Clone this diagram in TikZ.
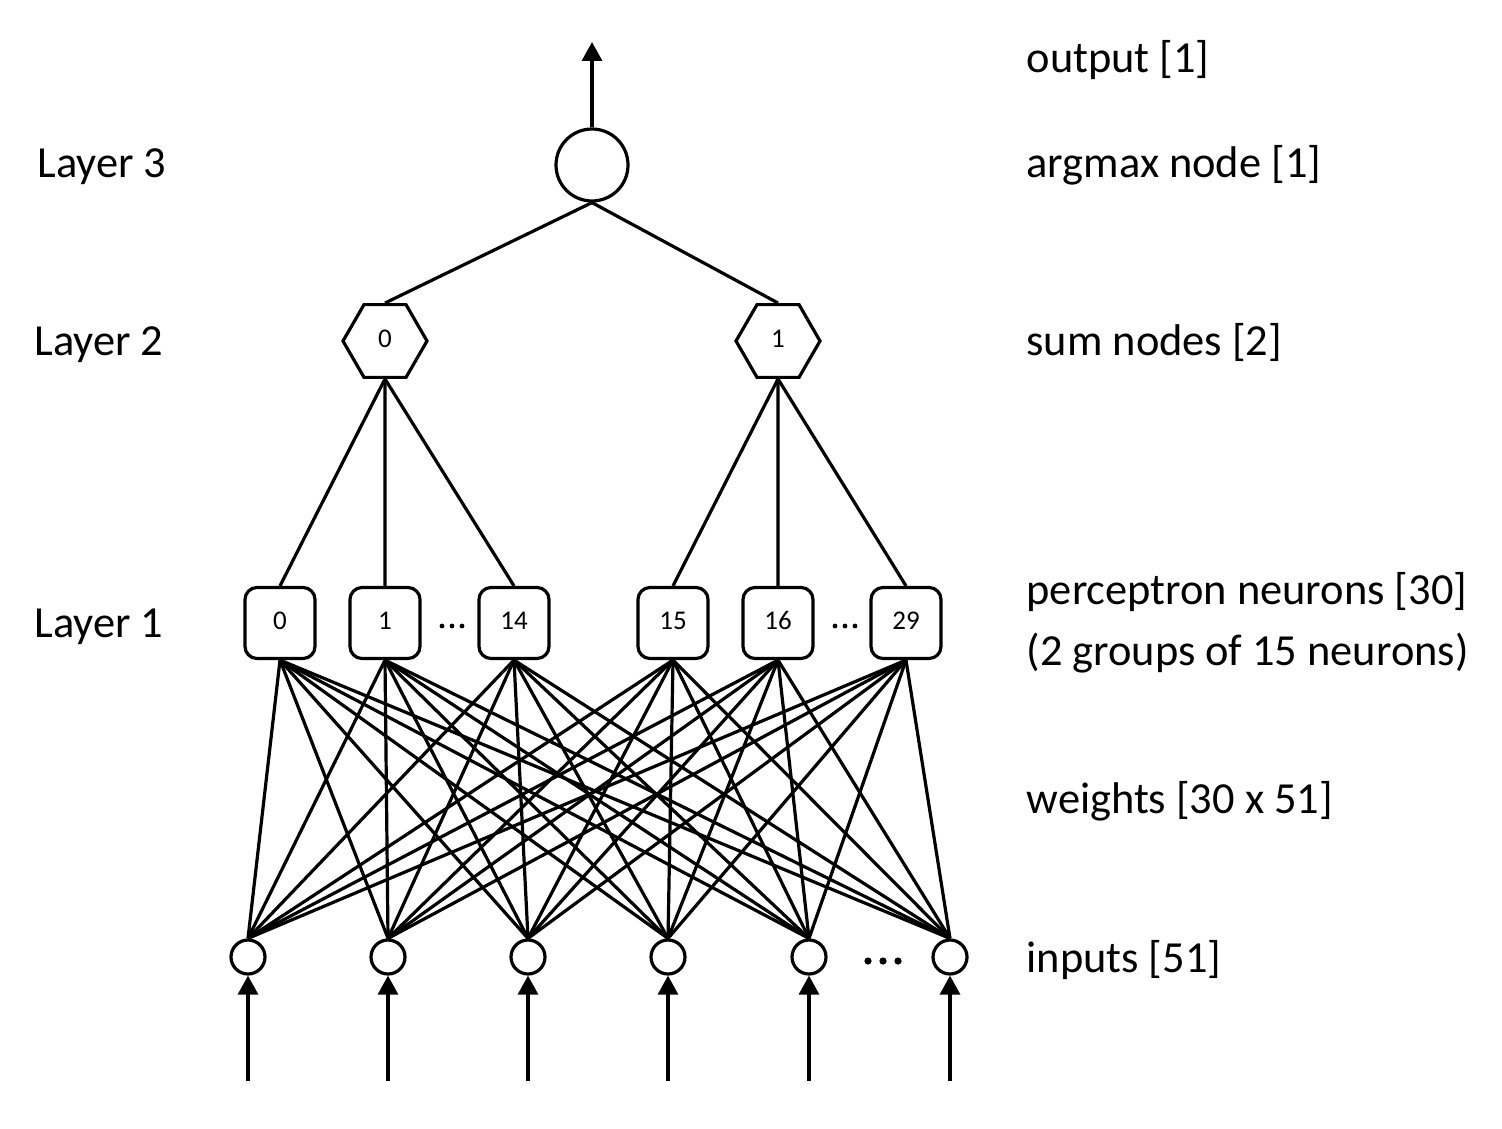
\documentclass[tikz,border=0pt]{standalone}
\usepackage{fontspec}
\setmainfont{Carlito}
\usetikzlibrary{shapes.geometric,arrows.meta}
\begin{document}
\begin{tikzpicture}[x=0.5pt,y=-0.5pt,line width=1.6pt,
  lbl/.style={inner sep=0pt,anchor=base west,font=\fontsize{22.2}{26}\selectfont},
  perc/.style={draw,rounded corners=6pt,minimum width=35pt,minimum height=35.5pt,inner sep=0pt,text height=0.64em,text depth=0pt,font=\fontsize{13.5}{15}\selectfont},
  sumnode/.style={draw,regular polygon,regular polygon sides=6,minimum size=42pt,inner sep=0pt,text height=0.64em,text depth=0pt,font=\fontsize{13.5}{15}\selectfont},
  inp/.style={draw,circle,minimum size=17pt,inner sep=0pt},
  arg/.style={draw,circle,minimum size=36pt,inner sep=0pt},
  arr/.style={-{Triangle[length=9.5pt,width=10pt]}},
  dotmark/.style={circle,fill,inner sep=0pt}]
\useasboundingbox (0,0) rectangle (1502,1128);
% argmax
\node[arg] (a) at (592,165) {};
\coordinate (out) at (592,42);
\draw[arr] (a.north) -- (out);
% sum nodes
\node[sumnode] (h0) at (385,341) {0};
\node[sumnode] (h1) at (778,341) {1};
\draw (a.south) -- (h0.north);
\draw (a.south) -- (h1.north);
% perceptrons
\node[perc] (p0) at (280,623) {0};
\node[perc] (p1) at (385,623) {1};
\node[perc] (p14) at (514,623) {14};
\node[perc] (p15) at (673,623) {15};
\node[perc] (p16) at (778,623) {16};
\node[perc] (p29) at (906,623) {29};
\foreach \p in {p0,p1,p14} \draw (h0.south) -- (\p.north);
\foreach \p in {p15,p16,p29} \draw (h1.south) -- (\p.north);
% dots between perceptrons
\foreach \x in {442,452,462} \node[dotmark,minimum size=2.4pt] (d\x) at (\x,626) {};
\foreach \x in {835,845,855} \node[dotmark,minimum size=2.4pt] (e\x) at (\x,626) {};
% inputs
\node[inp] (i0) at (248,957) {};
\node[inp] (i1) at (388,957) {};
\node[inp] (i2) at (528,957) {};
\node[inp] (i3) at (668,957) {};
\node[inp] (i4) at (809,957) {};
\node[inp] (i5) at (950,957) {};
\foreach \x in {868,883,898} \node[dotmark,minimum size=3.6pt] (f\x) at (\x,961) {};
% weights
\foreach \p in {p0,p1,p14,p15,p16,p29}
  \foreach \i in {i0,i1,i2,i3,i4,i5}
    \draw (\p.south) -- (\i.north);
% input arrows
\foreach \i/\x in {i0/248,i1/388,i2/528,i3/668,i4/809,i5/950} {
  \coordinate (s\i) at (\x,1081);
  \draw[arr] (s\i) -- (\i.south);
}
% left labels
\node[lbl] (l3) at (36,178) {Layer 3};
\node[lbl] (l2) at (33,355) {Layer 2};
\node[lbl] (l1) at (33,637) {Layer 1};
% right labels
\node[lbl] (r1) at (1025,73) {output [1]};
\node[lbl] (r2) at (1025,178) {argmax node [1]};
\node[lbl] (r3) at (1025,355) {sum nodes [2]};
\node[lbl] (r4) at (1025,604) {perceptron neurons [30]};
\node[lbl] (r5) at (1025,665) {(2 groups of 15 neurons)};
\node[lbl] (r6) at (1025,813) {weights [30 x 51]};
\node[lbl] (r7) at (1025,972) {inputs [51]};
\end{tikzpicture}
\end{document}
